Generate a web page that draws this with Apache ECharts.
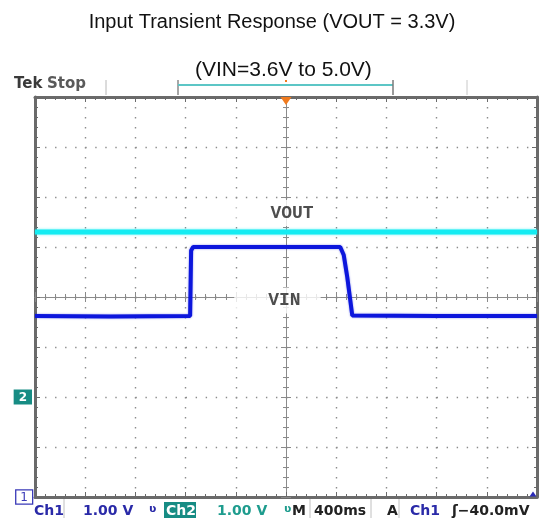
<!DOCTYPE html>
<html>
<head>
<meta charset="utf-8">
<script src="https://cdn.jsdelivr.net/npm/echarts@6/dist/echarts.min.js"></script>
<style>
  html, body { margin: 0; padding: 0; background: #fff; }
  #chart { width: 544px; height: 518px; }
</style>
</head>
<body>
<div id="chart"></div>
<script>
// scope screen: 10 x 8 divisions, 400 ms/div, 1.00 V/div on both channels
const vinTime = [0, 1.5, 3.09, 3.11, 3.15, 4.6, 6.08, 6.15, 6.22, 6.32, 8, 10]
const vinVolts = [3.62, 3.61, 3.62, 4.93, 5.0, 5.0, 5.0, 4.84, 4.4, 3.63, 3.62, 3.62]
const voutTime = [0, 5, 10]
const voutVolts = [3.3, 3.3, 3.3]

const ch1Ground = 0 // divisions from the bottom
const ch2Ground = 2
const triggerDiv = 5

const traceLabels = ['VOUT', 'VIN']
const traceLabelAt = [[4.98, 5.68], [4.83, 3.93]]

const groundMarks = { 0: '1', 2: '2' }

const frameColor = '#6a6a6a'
const dotColor = '#8c8c8c'

const toPoints = (t, v, ground) => t.map((x, i) => [x, v[i] + ground])

function frameAxis(position, opts = {}) {
  return Object.assign({
    type: 'value',
    position,
    min: 0,
    max: position === 'bottom' || position === 'top' ? 10 : 8,
    interval: 1,
    axisLine: { show: true, onZero: false, lineStyle: { color: frameColor, width: 3 } },
    axisTick: { show: true, inside: true, length: 5, lineStyle: { color: frameColor, width: 1 } },
    minorTick: { show: true, splitNumber: 5, length: 3, lineStyle: { color: frameColor, width: 1 } },
    axisLabel: { show: false },
    splitLine: { show: false }
  }, opts)
}

function centerAxis(position, offset, inside) {
  return frameAxis(position, {
    offset,
    axisLine: { show: true, onZero: false, lineStyle: { color: '#8a8a8a', width: 1 } },
    axisTick: { show: true, inside, length: 5, lineStyle: { color: '#8a8a8a', width: 1 } },
    minorTick: { show: true, splitNumber: 5, length: 3, lineStyle: { color: '#8a8a8a', width: 1 } }
  })
}

const chart = echarts.init(document.getElementById('chart'))

const statusFont = 'bold 14px "DejaVu Sans"'
const statusText = (x, text, fill, font) => ({
  type: 'text', left: x, top: 504, z: 10,
  style: { text, fill, font: font || statusFont }
})
const vline = (x, y1, y2, stroke, w) => ({
  type: 'line', z: 10,
  shape: { x1: x, y1, x2: x, y2 },
  style: { stroke, lineWidth: w || 1 }
})

chart.setOption({
  animation: false,
  backgroundColor: '#fff',
  title: [
    {
      text: 'Input Transient Response (VOUT = 3.3V)',
      left: 'center', top: 7,
      textStyle: { fontFamily: 'Liberation Sans', fontSize: 20, fontWeight: 'normal', color: '#111' }
    },
    {
      text: '(VIN=3.6V to 5.0V)',
      left: 190, top: 55,
      textStyle: { fontFamily: 'Liberation Sans', fontSize: 21, fontWeight: 'normal', color: '#111' }
    }
  ],
  grid: { left: 35, top: 97, width: 502, height: 400, outerBoundsMode: 'none' },
  xAxis: [
    frameAxis('bottom', {
      splitLine: { show: true, lineStyle: { color: dotColor, width: 1.4, type: [1.4, 8.6] } }
    }),
    frameAxis('top'),
    centerAxis('bottom', -200, true),
    centerAxis('bottom', -200, false)
  ],
  yAxis: [
    frameAxis('left', {
      splitLine: { show: true, lineStyle: { color: dotColor, width: 1.4, type: [1.4, 8.64] } },
      axisLabel: {
        show: true, margin: 3,
        formatter: v => {
          const m = groundMarks[v]
          if (!m) return ''
          return v === ch2Ground ? '{ch2|' + m + '}' : '{ch1|' + m + '}'
        },
        rich: {
          ch2: { backgroundColor: '#178c84', color: '#fff', fontWeight: 'bold', fontSize: 12,
            fontFamily: 'DejaVu Sans', padding: [2, 5, 1, 5] },
          ch1: { backgroundColor: '#fff', color: '#3a3ab8', borderColor: '#3a3ab8', borderWidth: 1.3,
            fontSize: 12, fontFamily: 'DejaVu Sans', padding: [1, 4, 0, 4] }
        }
      }
    }),
    frameAxis('right'),
    centerAxis('left', -251, true),
    centerAxis('left', -251, false)
  ],
  series: [
    {
      name: 'VOUT',
      type: 'line',
      data: toPoints(voutTime, voutVolts, ch2Ground),
      symbol: 'none',
      z: 3,
      lineStyle: { color: '#14ecf2', width: 5, shadowColor: 'rgba(20,236,242,0.6)', shadowBlur: 3 },
      markPoint: {
        symbol: 'triangle', symbolSize: [11, 8], symbolRotate: 180, symbolOffset: [0, 4],
        itemStyle: { color: '#f07a1e' },
        label: { show: false },
        data: [{ coord: [triggerDiv, 8] }]
      }
    },
    {
      name: 'VIN',
      type: 'line',
      data: toPoints(vinTime, vinVolts, ch1Ground),
      symbol: 'none',
      z: 4,
      lineStyle: { color: '#0c16dc', width: 4, shadowColor: 'rgba(12,22,220,0.5)', shadowBlur: 2 },
      markPoint: {
        symbol: 'triangle', symbolSize: [7, 5], symbolOffset: [-4, -3],
        itemStyle: { color: '#2a2ab8' },
        label: { show: false },
        data: [{ coord: [10, 0] }]
      }
    },
    {
      name: 'labels',
      type: 'scatter',
      symbolSize: 0,
      z: 5,
      data: traceLabels.map((t, i) => ({ value: traceLabelAt[i], name: t })),
      label: {
        show: true, position: 'inside',
        formatter: p => p.name,
        fontFamily: 'Liberation Mono', fontWeight: 'bold', fontSize: 18, color: '#222',
        backgroundColor: '#fff', padding: [5, 20, 3, 34]
      }
    }
  ],
  graphic: [
    { type: 'text', left: 14, top: 77, z: 10,
      style: { text: 'Tek', fill: '#3a3a3a', font: 'bold 15px "DejaVu Sans"' } },
    { type: 'text', left: 47, top: 77, z: 10,
      style: { text: 'Stop', fill: '#5a5a5a', font: 'bold 15px "DejaVu Sans"' } },
    vline(106, 80, 95, '#b8b8b8'),
    vline(178, 80, 95, '#8a8a8a', 1.5),
    { type: 'line', z: 10, shape: { x1: 178, y1: 85, x2: 393, y2: 85 },
      style: { stroke: '#5cc6c6', lineWidth: 2 } },
    vline(393, 80, 95, '#7a7a7a', 1.5),
    vline(467, 80, 95, '#c8c8c8'),
    { type: 'rect', z: 10, shape: { x: 285, y: 80, width: 2, height: 2 }, style: { fill: '#f07a1e' } },

    statusText(34, 'Ch1', '#2a2aa8'),
    vline(64, 499, 518, '#c0c0c0'),
    statusText(83, '1.00 V', '#2a2aa8'),
    statusText(149, 'ʋ', '#2a2aa8', 'bold 11px "DejaVu Sans"'),
    { type: 'rect', z: 10, shape: { x: 164, y: 502, width: 32, height: 16 }, style: { fill: '#178c84' } },
    statusText(166, 'Ch2', '#ffffff'),
    statusText(217, '1.00 V', '#1e9c8e'),
    statusText(284, 'ʋ', '#1e9c8e', 'bold 11px "DejaVu Sans"'),
    statusText(292, 'M', '#222'),
    vline(310, 499, 518, '#c0c0c0'),
    statusText(314, '400ms', '#222'),
    vline(371, 499, 518, '#c0c0c0'),
    statusText(387, 'A', '#222'),
    vline(399, 499, 518, '#c0c0c0'),
    statusText(410, 'Ch1', '#2a2aa8'),
    statusText(452, 'ʃ−40.0mV', '#222')
  ]
})
</script>
</body>
</html>
